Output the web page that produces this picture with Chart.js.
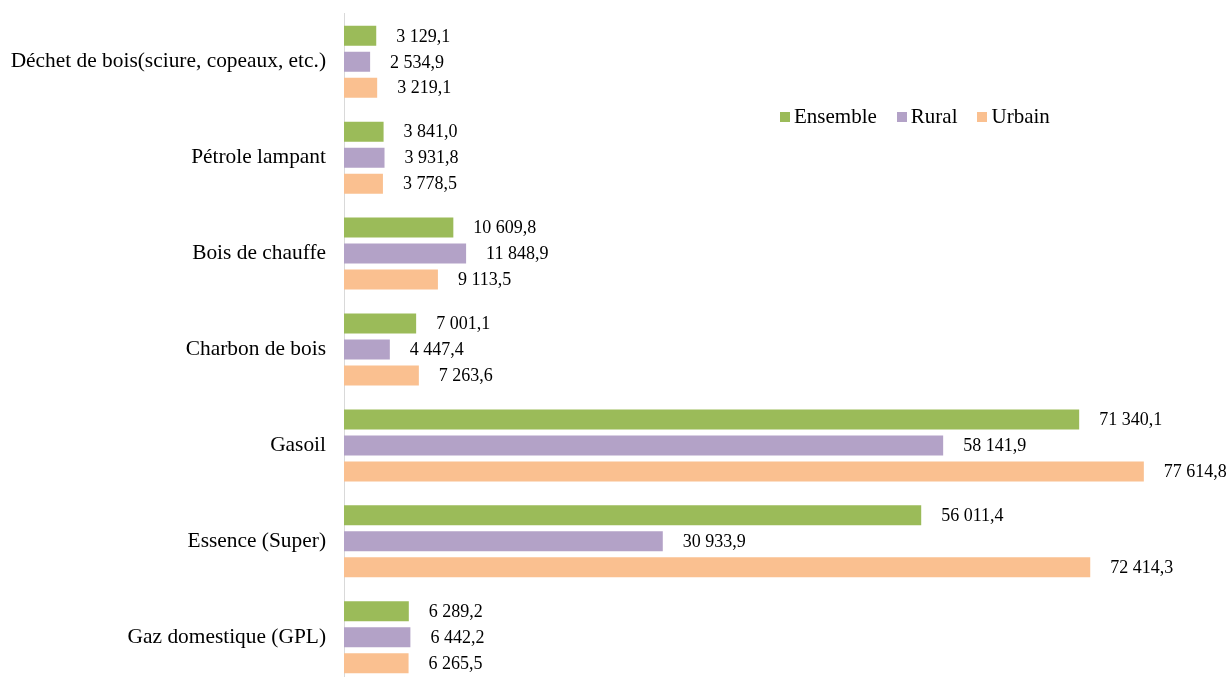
<!DOCTYPE html>
<html lang="fr">
<head>
<meta charset="UTF-8">
<title>Dépenses par type de combustible</title>
<style>
body {
margin: 0;
background: #ffffff;
overflow: hidden;
font-family: 'Liberation Serif', 'Times New Roman', serif;
}
.wrap {
position: relative;
width: 1232px;
height: 677px;
overflow: hidden;
}
#fuelChart {
position: absolute;
left: 0;
top: -17px;
}
#legend {
position: absolute;
left: 780px;
top: 104px;
display: flex;
font-size: 21px;
color: #000;
}
#legend span.item {
display: flex;
align-items: center;
margin-right: 20px;
}
#legend span.box {
display: inline-block;
width: 10px;
height: 10px;
margin-right: 4px;
}
</style>
</head>
<body>
<div class="wrap">
<canvas id="fuelChart" width="1232" height="733"></canvas>
<div id="legend"></div>
</div>

<script src="https://cdn.jsdelivr.net/npm/chart.js"></script>
<script>
// categories, top to bottom as in the picture
const categories = [
"Déchet de bois(sciure, copeaux, etc.)",
"Pétrole lampant",
"Bois de chauffe",
"Charbon de bois",
"Gasoil",
"Essence (Super)",
"Gaz domestique (GPL)"
];

const seriesNames = ["Ensemble", "Rural", "Urbain"];
const seriesColors = ["#9BBB59", "#B3A2C7", "#FAC090"];

const ensemble = [3129.1, 3841.0, 10609.8, 7001.1, 71340.1, 56011.4, 6289.2];
const rural = [2534.9, 3931.8, 11848.9, 4447.4, 58141.9, 30933.9, 6442.2];
const urbain = [3219.1, 3778.5, 9113.5, 7263.6, 77614.8, 72414.3, 6265.5];

const seriesValues = [ensemble, rural, urbain];

// french style number: 3 129,1
function fmt(v) {
const parts = v.toFixed(1).split('.');
const intPart = parts[0].replace(/\B(?=(\d{3})+(?!\d))/g, ' ');
return intPart + ',' + parts[1];
}

const serif = "'Liberation Serif', 'Times New Roman', serif";

// value labels to the right of each bar
const valueLabels = {
id: 'valueLabels',
afterDatasetsDraw(chart) {
const ctx = chart.ctx;
ctx.save();
ctx.font = '18px ' + serif;
ctx.fillStyle = '#000';
ctx.textAlign = 'left';
ctx.textBaseline = 'middle';
chart.data.datasets.forEach((ds, i) => {
chart.getDatasetMeta(i).data.forEach((bar, j) => {
ctx.fillText(fmt(ds.data[j]), bar.x + 20, bar.y + 1);
});
});
ctx.restore();
}
};

const datasets = seriesNames.map((name, i) => ({
label: name,
data: seriesValues[i],
backgroundColor: seriesColors[i],
borderWidth: 0,
barPercentage: 0.77,
categoryPercentage: 0.8125
}));

new Chart(document.getElementById('fuelChart').getContext('2d'), {
type: 'bar',
data: { labels: categories, datasets: datasets },
options: {
responsive: false,
animation: false,
indexAxis: 'y',
layout: { padding: { top: 13, bottom: 5, left: 0, right: 0 } },
plugins: {
legend: { display: false },
tooltip: { enabled: false }
},
scales: {
x: {
display: false,
min: 0,
max: 86170
},
y: {
afterFit(scale) { scale.width = 344; },
grid: { display: false, drawTicks: false },
border: { display: true, color: '#D9D9D9', width: 1 },
ticks: {
color: '#000',
padding: 18,
font: { family: serif, size: 21.4 }
}
}
}
},
plugins: [valueLabels]
});

// legend
const legend = document.getElementById('legend');
seriesNames.forEach((name, i) => {
const item = document.createElement('span');
item.className = 'item';
const box = document.createElement('span');
box.className = 'box';
box.style.background = seriesColors[i];
item.appendChild(box);
item.appendChild(document.createTextNode(name));
legend.appendChild(item);
});
</script>
</body>
</html>
